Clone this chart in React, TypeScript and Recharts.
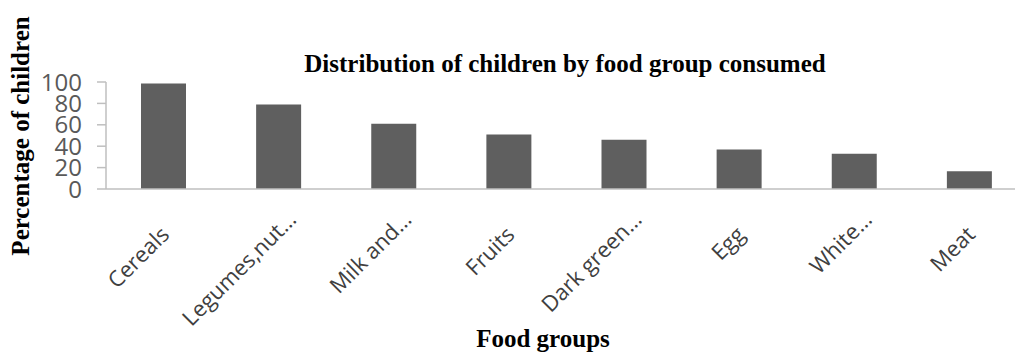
import { BarChart, Bar, XAxis, YAxis } from 'recharts';

const foodGroups = ['Cereals', 'Legumes,nut…', 'Milk and…', 'Fruits', 'Dark green…', 'Egg', 'White…', 'Meat'];
const percentChildren = [98.5, 79, 61, 51, 46, 37, 33, 16.5];
const yTicks = [0, 20, 40, 60, 80, 100];

const data = foodGroups.map((group, i) => ({ group, value: percentChildren[i] }));

const SERIF = '"Liberation Serif", "Times New Roman", serif';
const SANS = '"Open Sans", sans-serif';

// Excel pushes the truncated labels a bit further out than the short ones
function CategoryTick({ x, y, payload }: any) {
  const label: string = payload.value;
  const cut = label.endsWith('…');
  const ax = x + (cut ? 19 : 7);
  const ay = y + (cut ? 32 : 47);
  return (
    <text
      x={ax}
      y={ay}
      transform={`rotate(-45, ${ax}, ${ay})`}
      textAnchor="end"
      fill="#404040"
      fontSize={22}
      fontFamily={SANS}
    >
      {label}
    </text>
  );
}

export default function App() {
  return (
    <div style={{ position: 'absolute', left: 0, top: 0, width: 1015, height: 356, overflow: 'hidden', background: '#fff' }}>
      <BarChart
        width={1040}
        height={356}
        data={data}
        margin={{ top: 82, right: 13, left: 0, bottom: 0 }}
        barSize={45}
      >
        <XAxis
          dataKey="group"
          height={167}
          interval={0}
          axisLine={{ stroke: '#bfbfbf', strokeWidth: 1.5 }}
          tickLine={false}
          tickSize={0}
          tickMargin={0}
          tick={<CategoryTick />}
        />
        <YAxis
          width={106}
          domain={[0, 100]}
          ticks={yTicks}
          interval={0}
          axisLine={{ stroke: '#bfbfbf', strokeWidth: 1.5 }}
          tickLine={{ stroke: '#bfbfbf', strokeWidth: 1.5 }}
          tickSize={9}
          tickMargin={15}
          tick={{ fill: '#595959', fontSize: 24, fontFamily: SANS }}
        />
        <Bar dataKey="value" fill="#5f5f5f" isAnimationActive={false} />
      </BarChart>
      <svg width={1015} height={356} style={{ position: 'absolute', left: 0, top: 0, pointerEvents: 'none' }}>
        <text x={565} y={72} textAnchor="middle" fontFamily={SERIF} fontWeight="bold" fontSize={25} fill="#000">
          Distribution of children by food group consumed
        </text>
        <text x={543} y={347} textAnchor="middle" fontFamily={SERIF} fontWeight="bold" fontSize={25} fill="#000">
          Food groups
        </text>
        <text x={-136} y={29} transform="rotate(-90)" textAnchor="middle" fontFamily={SERIF} fontWeight="bold" fontSize={25} fill="#000">
          Percentage of children
        </text>
      </svg>
    </div>
  );
}
